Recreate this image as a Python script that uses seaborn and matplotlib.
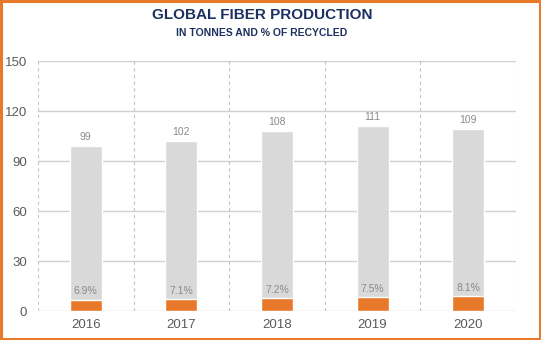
import matplotlib
matplotlib.use("Agg")
import matplotlib.pyplot as plt
import seaborn as sns
import pandas as pd
from matplotlib.patches import Rectangle

years = ["2016", "2017", "2018", "2019", "2020"]
total = [99, 102, 108, 111, 109]
recycled = [6.8, 7.2, 7.8, 8.3, 8.8]
pct_labels = ["6.9%", "7.1%", "7.2%", "7.5%", "8.1%"]
yticks = [0, 30, 60, 90, 120, 150]

df = pd.DataFrame({"year": years, "total": total, "recycled": recycled})

sns.set_style("white")
plt.rcParams['font.family'] = ['Liberation Sans', 'DejaVu Sans']

fig = plt.figure(figsize=(5.41, 3.40), dpi=100)
ax = fig.add_axes([38/541, 29/340, 478/541, 250/340])

gray = "#d9d9d9"
orange = "#e8792a"
sns.barplot(data=df, x="year", y="total", color=gray, width=0.335, ax=ax,
            saturation=1, zorder=3)
sns.barplot(data=df, x="year", y="recycled", color=orange, width=0.335, ax=ax,
            saturation=1, zorder=4)

ax.set_xlim(-0.5, 4.5)
ax.set_ylim(0, 150)
ax.set_yticks(yticks)
ax.set_xlabel("")
ax.set_ylabel("")
for s in ax.spines.values():
    s.set_visible(False)

for y in yticks:
    ax.axhline(y, color="#d0d0d0", lw=1.0, zorder=1)
for x in [-0.5, 0.5, 1.5, 2.5, 3.5, 4.5]:
    ax.axvline(x, color="#c4c4c4", lw=0.8, ls=(0, (3, 3)), zorder=1)

ax.tick_params(axis="both", length=0, labelsize=9.5, labelcolor="#5a5a5a")
ax.tick_params(axis="y", pad=8)
ax.tick_params(axis="x", pad=6)

for i, (t, r, p) in enumerate(zip(total, recycled, pct_labels)):
    ax.text(i, t + 2.5, str(t), ha="center", va="bottom", fontsize=7.5,
            color="#8a8a8a", zorder=5)
    ax.text(i, r + 2.0, p, ha="center", va="bottom", fontsize=7.5,
            color="#8a8a8a", zorder=5)

fig.text(262/541, 1 - 15/340, "GLOBAL FIBER PRODUCTION", ha="center", va="center",
         fontsize=11, fontweight="bold", color="#1c3160")
fig.text(262/541, 1 - 33/340, "IN TONNES AND % OF RECYCLED", ha="center", va="center",
         fontsize=7.5, fontweight="bold", color="#1c3160")

fig.add_artist(Rectangle((0.001, 0.002), 0.997, 0.995, transform=fig.transFigure,
                         fill=False, edgecolor=orange, lw=2.2))

fig.savefig("out.png", dpi=100)
